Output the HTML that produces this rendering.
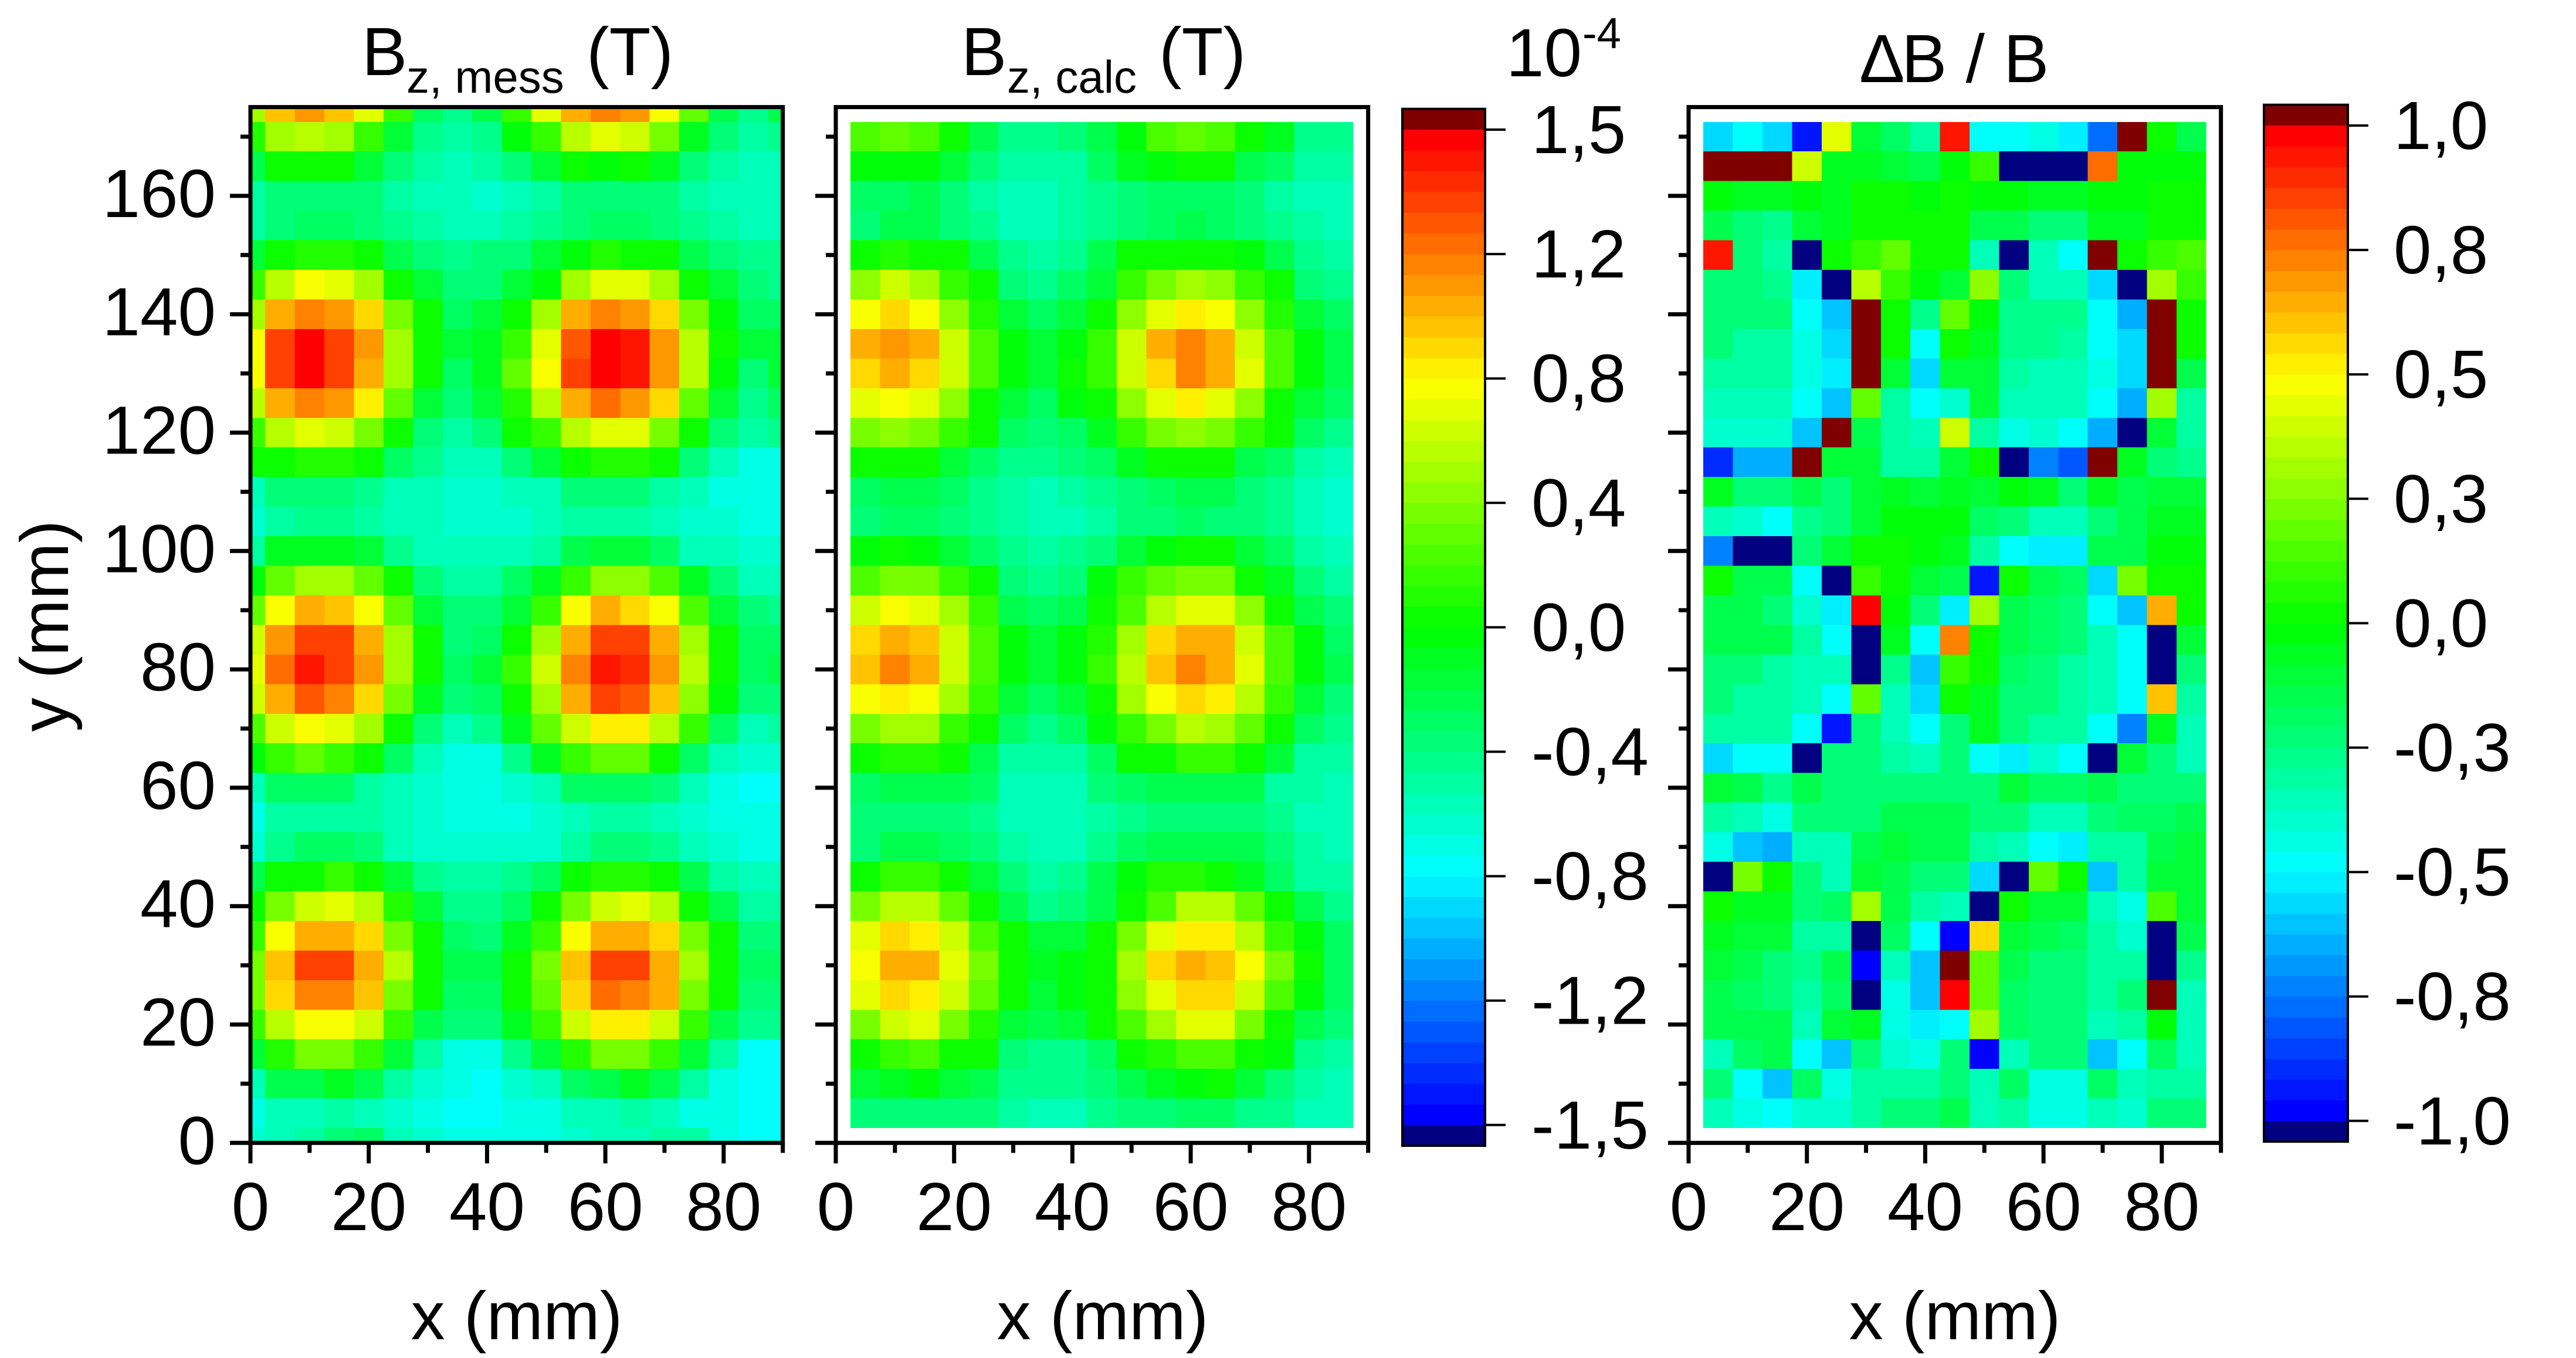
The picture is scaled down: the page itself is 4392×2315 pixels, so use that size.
<!DOCTYPE html>
<html lang="de">
<head>
<meta charset="utf-8">
<title>Bz heatmaps</title>
<style>
html,body{margin:0;padding:0;background:#fff;}
svg{display:block;}
text{font-family:"Liberation Sans",Arial,sans-serif;font-size:116px;fill:#000;}
</style>
</head>
<body>
<svg id="chart" xmlns="http://www.w3.org/2000/svg" width="4392" height="2315" viewBox="0 0 4392 2315">
  <rect x="0" y="0" width="4392" height="2315" fill="#fff"/>
  <g id="cells1" shape-rendering="crispEdges"></g>
  <g id="cells2" shape-rendering="crispEdges"></g>
  <g id="cells3" shape-rendering="crispEdges"></g>
  <g id="axes"></g>
  <g id="bar1"></g>
  <g id="bar2"></g>
  <text><tspan x="617" y="128">B</tspan><tspan x="693" y="158" style="font-size:78px">z, mess</tspan><tspan x="1000" y="128">(T)</tspan></text>
  <text><tspan x="1639" y="128">B</tspan><tspan x="1717" y="158" style="font-size:78px">z, calc</tspan><tspan x="1976" y="128">(T)</tspan></text>
  <text><tspan x="3170" y="140">Δ</tspan><tspan x="3242" y="140">B / B</tspan></text>
  <text><tspan x="2568" y="130">10</tspan><tspan x="2698" y="82" style="font-size:74px">-4</tspan></text>
  <text x="881" y="2283" text-anchor="middle">x (mm)</text>
  <text x="1880" y="2283" text-anchor="middle">x (mm)</text>
  <text x="3333" y="2283" text-anchor="middle">x (mm)</text>
  <text transform="translate(116,1067) rotate(-90)" text-anchor="middle">y (mm)</text>
</svg>
<script>
const xTicksMajor = [0,20,40,60,80];
const xTicksMinor = [10,30,50,70,90];
const yTicksMajor = [0,20,40,60,80,100,120,140,160];
const yTicksMinor = [10,30,50,70,90,110,130,150,170];
const bar1Labels = ["1,5","1,2","0,8","0,4","0,0","-0,4","-0,8","-1,2","-1,5"];
const bar2Labels = ["1,0","0,8","0,5","0,3","0,0","-0,3","-0,5","-0,8","-1,0"];

const messX = [0,5,10,15,20,25,30,35,40,45,50,55,60,65,70,75,80,85,90];
const messY = [175,170,165,160,155,150,145,140,135,130,125,120,115,110,105,100,95,90,85,80,75,70,65,60,55,50,45,40,35,30,25,20,15,10,5,0];
const messValues = [
[.5,.95,1.06,.94,.7,.19,-.28,-.42,-.23,.19,.7,1,1.09,1.06,.75,.28,-.23,-.42,-.23],
[.09,.5,.56,.5,.19,-.19,-.42,-.47,-.42,-.04,.19,.56,.7,.63,.33,-.09,-.38,-.47,-.42],
[-.23,.03,.03,.03,-.14,-.38,-.47,-.52,-.47,-.38,-.19,0,-.04,0,-.09,-.33,-.47,-.52,-.52],
[-.47,-.33,-.33,-.33,-.38,-.47,-.52,-.56,-.6,-.52,-.47,-.38,-.33,-.33,-.38,-.47,-.52,-.56,-.56],
[-.47,-.33,-.28,-.28,-.33,-.42,-.47,-.52,-.52,-.47,-.42,-.33,-.28,-.28,-.33,-.42,-.47,-.52,-.52],
[-.19,0,.1,.1,0,-.23,-.38,-.42,-.38,-.33,-.19,-.03,.08,0,0,-.23,-.38,-.42,-.42],
[.14,.56,.75,.7,.45,0,-.19,-.33,-.33,-.19,-.03,.45,.7,.7,.47,0,-.19,-.38,-.42],
[.5,.97,1.13,1.06,.88,.33,0,-.28,-.19,0,.47,.97,1.13,1.06,.88,.33,-.04,-.28,-.28],
[.75,1.28,1.5,1.33,1.06,.5,0,-.19,-.09,.14,.7,1.22,1.5,1.41,1.06,.56,0,-.19,-.19],
[.75,1.28,1.5,1.33,1,.5,0,-.28,-.09,.28,.75,1.28,1.5,1.41,1.06,.56,-.03,-.33,-.14],
[.56,1,1.13,1.06,.8,.28,-.14,-.33,-.19,.09,.56,1,1.2,1.06,.88,.28,-.14,-.42,-.28],
[.14,.56,.7,.63,.38,0,-.38,-.47,-.38,0,.14,.56,.7,.7,.38,0,-.33,-.47,-.42],
[.03,.03,.09,.09,0,-.28,-.42,-.56,-.56,-.38,-.19,.03,.09,.09,.03,-.38,-.56,-.66,-.66],
[-.56,-.33,-.33,-.33,-.42,-.52,-.56,-.6,-.6,-.56,-.52,-.38,-.33,-.33,-.47,-.56,-.66,-.7,-.7],
[-.6,-.47,-.42,-.42,-.47,-.56,-.56,-.6,-.62,-.6,-.56,-.5,-.5,-.5,-.52,-.6,-.62,-.7,-.7],
[-.5,-.1,-.09,-.09,-.14,-.42,-.52,-.56,-.56,-.52,-.45,-.23,-.14,-.14,-.28,-.52,-.56,-.62,-.62],
[-.04,.28,.5,.5,.28,0,-.38,-.47,-.47,-.3,-.1,.19,.42,.42,.24,-.09,-.38,-.52,-.52],
[.28,.75,1,.94,.75,.28,-.14,-.38,-.38,-.14,.19,.72,.97,.88,.75,.24,-.19,-.38,-.42],
[.6,1.06,1.31,1.28,1,.5,0,-.33,-.28,0,.47,1,1.31,1.28,1,.5,0,-.28,-.28],
[.7,1.2,1.46,1.33,1.06,.5,0,-.28,-.19,.14,.6,1.13,1.46,1.4,1.06,.56,0,-.28,-.23],
[.6,1,1.22,1.1,.88,.38,-.09,-.38,-.28,0,.47,1,1.28,1.22,.94,.42,-.04,-.33,-.33],
[.24,.63,.75,.7,.45,0,-.38,-.52,-.42,-.09,.28,.63,.8,.8,.56,.14,-.3,-.52,-.47],
[-.03,.14,.28,.19,0,-.3,-.56,-.66,-.66,-.42,-.12,.14,.28,.28,.03,-.28,-.56,-.62,-.62],
[-.56,-.28,-.28,-.28,-.47,-.56,-.6,-.7,-.7,-.6,-.52,-.3,-.28,-.28,-.33,-.56,-.66,-.75,-.75],
[-.66,-.47,-.47,-.47,-.47,-.56,-.6,-.7,-.7,-.7,-.6,-.56,-.5,-.5,-.56,-.6,-.66,-.7,-.66],
[-.6,-.42,-.28,-.28,-.38,-.52,-.6,-.62,-.62,-.62,-.62,-.45,-.33,-.33,-.42,-.56,-.62,-.66,-.66],
[-.23,0,.05,.14,0,-.14,-.42,-.5,-.5,-.42,-.3,0,.09,.09,0,-.23,-.47,-.56,-.56],
[0,.38,.63,.7,.56,.09,-.19,-.42,-.42,-.28,0,.33,.63,.7,.56,.05,-.23,-.47,-.47],
[.14,.75,1,1,.84,.38,0,-.28,-.38,-.1,.14,.75,1,1,.84,.38,0,-.38,-.38],
[.38,.94,1.28,1.28,1,.56,0,-.23,-.23,0,.38,.94,1.28,1.28,1,.5,0,-.28,-.28],
[.33,.84,1.13,1.13,.94,.38,0,-.28,-.28,0,.28,.84,1.19,1.1,.97,.38,0,-.33,-.33],
[.14,.56,.75,.75,.63,.14,-.23,-.38,-.38,-.09,.14,.6,.8,.8,.6,.14,-.23,-.42,-.42],
[-.19,.09,.33,.33,.14,-.14,-.47,-.66,-.66,-.42,-.14,.1,.33,.33,.14,-.14,-.5,-.72,-.72],
[-.56,-.23,-.23,-.1,-.23,-.5,-.6,-.66,-.75,-.6,-.52,-.28,-.23,-.1,-.23,-.5,-.66,-.75,-.75],
[-.66,-.56,-.52,-.5,-.56,-.6,-.7,-.72,-.75,-.7,-.66,-.56,-.56,-.5,-.56,-.66,-.7,-.75,-.75],
[-.6,-.52,-.47,-.38,-.3,-.56,-.6,-.7,-.7,-.7,-.66,-.6,-.56,-.52,-.47,-.47,-.7,-.75,-.75]
];

const calcX = [5,10,15,20,25,30,35,40,45,50,55,60,65,70,75,80,85];
const calcY = [170,165,160,155,150,145,140,135,130,125,120,115,110,105,100,95,90,85,80,75,70,65,60,55,50,45,40,35,30,25,20,15,10,5];
const calcValues = [
[.2,.28,.2,0,-.2,-.42,-.42,-.38,-.2,-.05,.2,.28,.24,0,-.1,-.42,-.42],
[-.05,-.02,-.02,-.14,-.38,-.47,-.5,-.47,-.3,-.1,-.02,0,0,-.2,-.3,-.47,-.5],
[-.28,-.28,-.23,-.38,-.45,-.52,-.52,-.5,-.42,-.33,-.28,-.28,-.28,-.38,-.45,-.52,-.55],
[-.33,-.23,-.23,-.38,-.42,-.52,-.52,-.47,-.42,-.33,-.28,-.23,-.28,-.33,-.42,-.5,-.56],
[0,.1,0,0,-.23,-.42,-.47,-.42,-.2,0,.05,.05,0,-.03,-.23,-.42,-.47],
[.42,.63,.5,.14,0,-.33,-.42,-.28,-.14,.19,.33,.47,.42,.14,0,-.33,-.42],
[.72,.88,.75,.4,.1,-.14,-.28,-.14,0,.42,.7,.82,.75,.4,.1,-.14,-.3],
[.97,1.06,.97,.63,.24,-.05,-.14,-.05,.14,.63,.97,1.09,.97,.63,.2,-.05,-.2],
[.88,1,.88,.63,.24,-.05,-.14,0,.14,.63,.88,1.09,.97,.65,.2,-.05,-.2],
[.68,.75,.68,.4,.05,-.14,-.28,-.05,0,.42,.7,.8,.7,.4,.05,-.14,-.3],
[.33,.42,.33,.14,0,-.3,-.38,-.28,-.1,.14,.33,.42,.33,.14,0,-.3,-.42],
[0,.05,0,-.14,-.28,-.42,-.42,-.38,-.28,-.1,0,0,0,-.2,-.3,-.47,-.52],
[-.3,-.23,-.23,-.28,-.42,-.47,-.52,-.47,-.42,-.33,-.28,-.23,-.23,-.38,-.42,-.52,-.6],
[-.33,-.28,-.28,-.33,-.42,-.47,-.52,-.52,-.47,-.38,-.33,-.28,-.33,-.38,-.42,-.52,-.6],
[-.05,0,-.03,-.14,-.28,-.42,-.47,-.42,-.33,-.14,-.03,0,0,-.14,-.28,-.47,-.56],
[.24,.38,.38,.14,0,-.38,-.42,-.38,-.05,.14,.28,.33,.33,0,-.1,-.38,-.47],
[.63,.75,.7,.47,.14,-.23,-.28,-.23,0,.24,.56,.7,.7,.4,0,-.23,-.38],
[.85,1,.94,.63,.24,-.05,-.14,-.05,.1,.5,.85,1,1,.63,.24,-.05,-.3],
[.95,1.09,.97,.63,.24,-.05,-.14,-.05,.14,.56,.94,1.09,1,.7,.24,-.05,-.2],
[.75,.82,.75,.47,.14,-.14,-.28,-.14,0,.47,.75,.88,.82,.56,.14,-.14,-.33],
[.38,.47,.47,.14,0,-.3,-.42,-.28,-.03,.14,.38,.56,.5,.28,0,-.3,-.42],
[0,.1,.1,0,-.2,-.47,-.47,-.47,-.28,0,.05,.14,.14,0,-.14,-.47,-.5],
[-.28,-.23,-.23,-.23,-.3,-.52,-.56,-.56,-.38,-.28,-.23,-.23,-.23,-.23,-.47,-.5,-.52],
[-.38,-.33,-.33,-.38,-.42,-.52,-.56,-.52,-.47,-.42,-.38,-.33,-.33,-.38,-.42,-.52,-.56],
[-.33,-.2,-.2,-.28,-.38,-.47,-.52,-.52,-.42,-.28,-.23,-.23,-.23,-.23,-.38,-.5,-.52],
[0,.14,.14,0,-.14,-.38,-.47,-.42,-.23,-.03,.1,.1,0,-.1,-.3,-.47,-.47],
[.33,.56,.56,.28,0,-.23,-.42,-.33,-.23,.05,.24,.56,.56,.28,0,-.23,-.42],
[.7,.88,.78,.63,.24,0,-.14,-.14,0,.33,.7,.8,.8,.56,.19,-.03,-.3],
[.75,.97,.97,.7,.33,0,-.1,-.05,0,.47,.85,1,.94,.72,.33,0,-.28],
[.7,.88,.78,.63,.28,0,-.14,-.05,0,.42,.7,.88,.88,.63,.24,-.03,-.3],
[.38,.6,.65,.33,.1,-.14,-.23,-.14,0,.2,.47,.65,.65,.33,.02,-.2,-.38],
[0,.19,.24,0,0,-.38,-.42,-.42,-.28,0,.1,.24,.24,0,-.05,-.42,-.47],
[-.19,-.1,-.03,-.19,-.23,-.42,-.42,-.42,-.38,-.2,-.1,-.05,0,-.14,-.33,-.47,-.52],
[-.38,-.33,-.33,-.33,-.33,-.47,-.52,-.52,-.42,-.38,-.38,-.3,-.3,-.42,-.42,-.52,-.56]
];

const deltaX = [5,10,15,20,25,30,35,40,45,50,55,60,65,70,75,80,85];
const deltaY = [170,165,160,155,150,145,140,135,130,125,120,115,110,105,100,95,90,85,80,75,70,65,60,55,50,45,40,35,30,25,20,15,10,5];
const deltaValues = [
[-.58,-.5,-.59,-.97,.46,-.1,-.2,-.3,.96,-.5,-.5,-.44,-.52,-.8,1.1,0,-.15],
[1.1,1.1,1.1,.42,-.06,-.06,-.1,-.15,-.03,.1,-1.1,-1.1,-1.1,.79,-.03,-.03,-.03],
[-.03,-.06,-.08,-.03,-.08,0,0,-.03,0,-.03,-.03,-.08,-.08,-.03,-.03,0,.02],
[-.17,-.23,-.28,-.1,-.05,0,.02,.02,.02,-.15,-.15,-.25,-.25,-.05,-.05,.03,.03],
[.96,-.25,-.33,-1.1,.03,.1,.18,0,0,-.35,-1.1,-.38,-.47,1.1,.03,.1,.17],
[-.25,-.25,-.28,-.54,-1.1,.38,.1,-.03,-.1,.29,-.25,-.35,-.35,-.58,-1.1,.33,.1],
[-.25,-.25,-.25,-.5,-.63,1.1,.03,-.28,.2,-.02,-.28,-.28,-.28,-.5,-.67,1.1,.03],
[-.25,-.3,-.3,-.46,-.56,1.1,.03,-.5,0,-.08,-.28,-.28,-.3,-.47,-.58,1.1,.03],
[-.33,-.33,-.33,-.46,-.54,1.1,-.1,-.58,-.1,-.1,-.3,-.35,-.35,-.46,-.58,1.1,-.15],
[-.35,-.35,-.37,-.5,-.63,.2,-.3,-.5,-.42,-.12,-.35,-.35,-.35,-.5,-.67,.3,-.3],
[-.42,-.42,-.42,-.63,1.1,-.15,-.33,-.38,.42,-.33,-.46,-.42,-.48,-.67,-1.1,-.1,-.3],
[-.9,-.67,-.67,1.1,-.1,-.1,-.3,-.33,-.12,0,-1.1,-.75,-.85,1.1,-.08,-.23,-.28],
[-.08,-.23,-.25,-.15,-.23,-.1,-.08,-.1,-.08,-.1,-.03,-.08,-.23,-.08,-.15,-.1,-.1],
[-.35,-.42,-.5,-.28,-.25,-.1,-.03,-.03,-.03,-.2,-.25,-.35,-.35,-.25,-.15,-.06,-.06],
[-.73,-1.1,-1.1,-.23,-.1,.01,.01,-.03,-.08,-.33,-.5,-.55,-.55,-.15,-.15,-.03,-.03],
[.03,-.15,-.15,-.5,-1.1,.1,0,-.1,-.15,-.97,0,-.15,-.2,-.58,.25,0,0],
[-.15,-.17,-.23,-.42,-.52,1,-.03,-.23,-.55,.3,-.15,-.2,-.23,-.47,-.63,.66,0],
[-.15,-.17,-.17,-.33,-.47,-1.1,-.08,-.5,.75,0,-.15,-.2,-.23,-.38,-.47,-1.1,-.1],
[-.23,-.23,-.3,-.38,-.38,-1.1,-.28,-.63,.1,0,-.2,-.23,-.3,-.38,-.47,-1.1,-.23],
[-.25,-.3,-.3,-.37,-.5,.2,-.35,-.58,0,-.06,-.23,-.23,-.3,-.38,-.5,.63,-.33],
[-.33,-.33,-.33,-.5,-.97,-.23,-.35,-.47,-.23,-.08,-.23,-.3,-.33,-.5,-.75,-.08,-.35],
[-.58,-.5,-.5,-1.1,-.23,-.25,-.33,-.37,-.23,-.48,-.55,-.42,-.48,-1.1,-.1,-.23,-.35],
[-.1,-.15,-.28,-.17,-.25,-.23,-.23,-.25,-.23,-.23,-.12,-.2,-.2,-.15,-.23,-.23,-.23],
[-.33,-.38,-.46,-.25,-.25,-.23,-.15,-.15,-.15,-.23,-.23,-.35,-.38,-.25,-.2,-.2,-.15],
[-.46,-.63,-.66,-.38,-.35,-.15,-.1,-.15,-.15,-.3,-.38,-.5,-.54,-.3,-.33,-.15,-.1],
[-1.1,.25,.03,-.25,-.38,-.1,-.15,-.23,-.23,-.58,-1.1,.2,.03,-.63,-.3,-.1,-.1],
[0,-.08,-.08,-.25,-.2,.3,-.15,-.3,-.38,-1.1,0,-.1,-.1,-.38,-.46,.16,-.1],
[-.08,-.1,-.1,-.3,-.3,-1.1,-.2,-.5,-1,.58,-.1,-.15,-.2,-.33,-.42,-1.1,-.15],
[-.1,-.17,-.23,-.28,-.17,-1,-.38,-.63,1.1,.2,-.15,-.23,-.23,-.33,-.33,-1.1,-.28],
[-.17,-.2,-.23,-.3,-.2,-1.1,-.46,-.63,1,.2,-.2,-.23,-.23,-.33,-.23,1.1,-.38],
[-.17,-.17,-.15,-.35,-.1,-.08,-.46,-.54,-.5,.33,-.2,-.23,-.23,-.38,-.33,-.03,-.38],
[-.35,-.2,-.15,-.5,-.63,-.25,-.42,-.46,-.25,-1,-.35,-.23,-.23,-.63,-.48,-.2,-.35],
[-.23,-.5,-.63,-.2,-.46,-.3,-.33,-.33,-.23,-.38,-.2,-.46,-.46,-.2,-.38,-.3,-.3],
[-.35,-.46,-.5,-.42,-.42,-.33,-.23,-.23,-.17,-.35,-.3,-.46,-.46,-.35,-.42,-.23,-.23]
];

const NS = 'http://www.w3.org/2000/svg';
const LEVELS = 48;
const OVER = '#800000';
const UNDER = '#000080';
const STOPS = [[0,0,255],[0,255,255],[0,255,0],[255,255,0],[255,0,0]];

function levelColor(i){
  const t = i/(LEVELS-1)*4;
  const k = Math.min(3,Math.floor(t));
  const f = t-k;
  const a = STOPS[k], b = STOPS[k+1];
  return 'rgb('+Math.round(a[0]+(b[0]-a[0])*f)+','+Math.round(a[1]+(b[1]-a[1])*f)+','+Math.round(a[2]+(b[2]-a[2])*f)+')';
}
function valueColor(v,max){
  if(v>max) return OVER;
  if(v<-max) return UNDER;
  const i = Math.round((v+max)/(2*max)*(LEVELS-1));
  return levelColor(i);
}
function mk(tag,attrs,parent){
  const el = document.createElementNS(NS,tag);
  for(const k in attrs) el.setAttribute(k,attrs[k]);
  parent.appendChild(el);
  return el;
}

const Y0 = 1948.3, YSCALE = 10.09, XSCALE = 10.085;
const Y_TOP = 175, X_END = 90, CELL_HALF = 2.5;
function yPx(v){ return Y0 - v*YSCALE; }
function clamp(v,a,b){ return Math.max(a,Math.min(b,v)); }

function drawCells(groupId,left,xs,ys,rows,max){
  const g = document.getElementById(groupId);
  const xPx = v => left + v*XSCALE;
  rows.forEach((row,r)=>{
    row.forEach((v,c)=>{
      const x0 = xPx(clamp(xs[c]-CELL_HALF,0,X_END));
      const x1 = xPx(clamp(xs[c]+CELL_HALF,0,X_END));
      const y0 = yPx(clamp(ys[r]+CELL_HALF,0,Y_TOP));
      const y1 = yPx(clamp(ys[r]-CELL_HALF,0,Y_TOP));
      const cell = mk('rect',{x:x0,y:y0,width:x1-x0,height:y1-y0,fill:valueColor(v,max)},g);
      
      
    });
  });
}

function drawAxes(left,showY){
  const g = document.getElementById('axes');
  const xPx = v => left + v*XSCALE;
  const frame = mk('rect',{x:xPx(0),y:yPx(Y_TOP),width:X_END*XSCALE,height:Y_TOP*YSCALE,fill:'none',stroke:'#000','stroke-width':7},g);
  
  
  xTicksMajor.forEach(v=>{
    const t = mk('line',{x1:xPx(v),x2:xPx(v),y1:Y0,y2:Y0+35,stroke:'#000','stroke-width':7},g);
    
    
    const l = mk('text',{x:xPx(v),y:2097,'text-anchor':'middle'},g);
    l.textContent = v;
    
    
  });
  xTicksMinor.forEach(v=>{
    const t = mk('line',{x1:xPx(v),x2:xPx(v),y1:Y0,y2:Y0+17,stroke:'#000','stroke-width':7},g);
    
    
  });
  yTicksMajor.forEach(v=>{
    const t = mk('line',{x1:left,x2:left-35,y1:yPx(v),y2:yPx(v),stroke:'#000','stroke-width':7},g);
    
    
    if(showY){
      const l = mk('text',{x:368,y:yPx(v)+36,'text-anchor':'end'},g);
      l.textContent = v;
      
      
    }
  });
  yTicksMinor.forEach(v=>{
    const t = mk('line',{x1:left,x2:left-17,y1:yPx(v),y2:yPx(v),stroke:'#000','stroke-width':7},g);
    
    
  });
}

function drawBar(groupId,left,right,topTick,labels,labelX){
  const g = document.getElementById(groupId);
  const tickStep = 212.1;
  const bandH = tickStep/6;
  const bottomTick = topTick + tickStep*(labels.length-1);
  const over = mk('rect',{x:left,y:topTick-bandH,width:right-left,height:bandH,fill:OVER,'shape-rendering':'crispEdges'},g);
  
  
  for(let i=0;i<LEVELS;i++){
    const band = mk('rect',{x:left,y:bottomTick-(i+1)*bandH,width:right-left,height:bandH+0.5,fill:levelColor(i),'shape-rendering':'crispEdges'},g);
    
    
  }
  const under = mk('rect',{x:left,y:bottomTick,width:right-left,height:bandH,fill:UNDER,'shape-rendering':'crispEdges'},g);
  
  
  const fr = mk('rect',{x:left,y:topTick-bandH,width:right-left,height:bottomTick-topTick+2*bandH,fill:'none',stroke:'#000','stroke-width':4},g);
  
  
  labels.forEach((s,i)=>{
    const y = topTick + i*tickStep;
    const t = mk('line',{x1:right,x2:right+35,y1:y,y2:y,stroke:'#000','stroke-width':4},g);
    
    
    const l = mk('text',{x:labelX,y:y+40},g);
    l.textContent = s;
    
    
  });
}

drawCells('cells1',427,messX,messY,messValues,1.5);
drawCells('cells2',1425,calcX,calcY,calcValues,1.5);
drawCells('cells3',2879,deltaX,deltaY,deltaValues,1);
drawAxes(427,true);
drawAxes(1425,false);
drawAxes(2879,false);
drawBar('bar1',2391,2532,221,bar1Labels,2611);
drawBar('bar2',3860,4003,214,bar2Labels,4081);
</script>
</body>
</html>
